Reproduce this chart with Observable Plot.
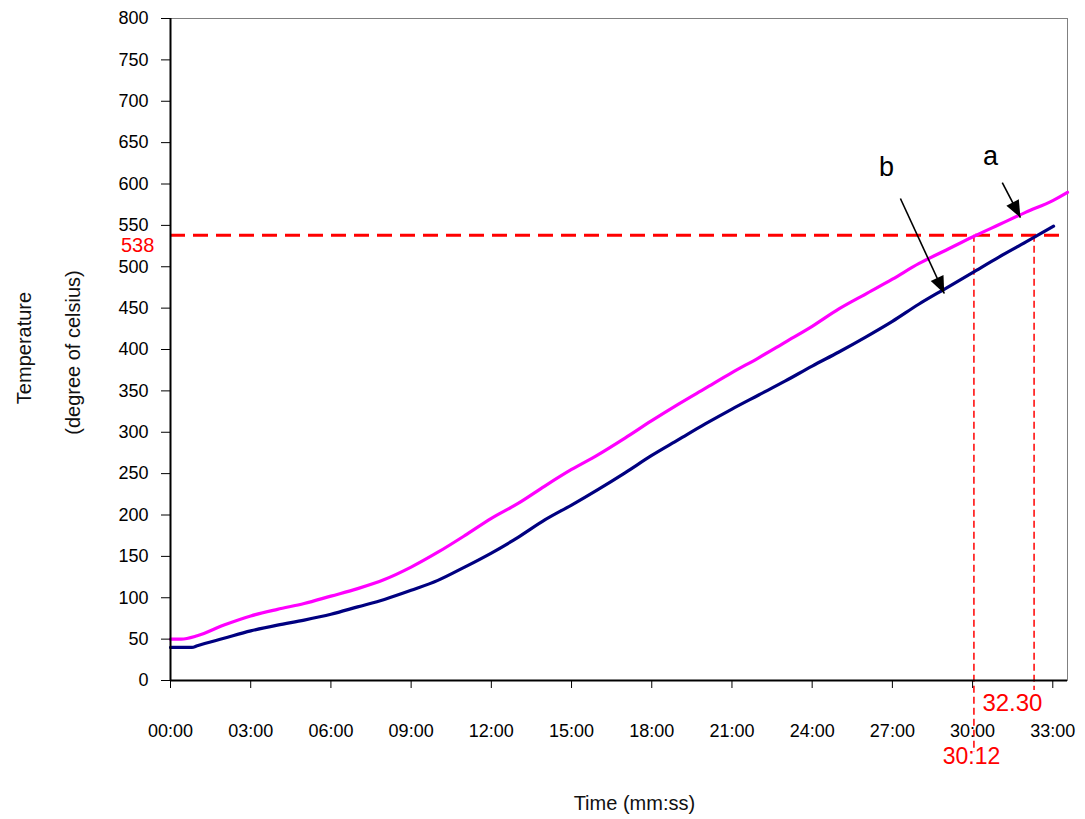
<!DOCTYPE html>
<html>
<head>
<meta charset="utf-8">
<script src="https://cdn.jsdelivr.net/npm/d3@7"></script>
<script src="https://cdn.jsdelivr.net/npm/@observablehq/plot@0.6"></script>
<style>
  html, body { margin: 0; padding: 0; background: #fff; }
  #chart svg { display: block; }
</style>
</head>
<body>
<div id="chart"></div>
<script>
// ---- Data (time in minutes, temperature in °C) ----
const timeA = [0, 0.4, 1, 2, 3, 4, 5, 6, 7, 8, 9, 10, 11, 12, 13, 14, 15, 16, 17, 18, 19, 20, 21, 22, 23, 24, 25, 26, 27, 28, 29, 30, 31, 32, 33, 33.55];
const tempA = [50, 50, 54, 67, 78, 86, 93, 102, 111, 122, 137, 155, 175, 196, 214, 235, 255, 273, 293, 314, 334, 353, 372, 390, 409, 428, 449, 467, 485, 504, 520, 536, 551, 566, 580, 590];

const timeB = [0, 0.8, 1, 2, 3, 4, 5, 6, 7, 8, 9, 10, 11, 12, 13, 14, 15, 16, 17, 18, 19, 20, 21, 22, 23, 24, 25, 26, 27, 28, 29, 30, 31, 32, 33.03];
const tempB = [40, 40, 42, 51, 60, 67, 73, 80, 89, 98, 109, 121, 137, 154, 173, 194, 212, 231, 251, 272, 291, 310, 328, 345, 362, 380, 397, 415, 434, 455, 474, 493, 512, 530, 549];

const yTicks = [0, 50, 100, 150, 200, 250, 300, 350, 400, 450, 500, 550, 600, 650, 700, 750, 800];
const xTickMinutes = [0, 3, 6, 9, 12, 15, 18, 21, 24, 27, 30, 33];
const xTickLabels = ["00:00", "03:00", "06:00", "09:00", "12:00", "15:00", "18:00", "21:00", "24:00", "27:00", "30:00", "33:00"];

const criticalTemp = 538;
const guideTimes = [30.05, 32.3];
const guideBottoms = [-87, -12];

const redNoteText = ["538", "32.30", "30:12"];
const redNoteT = [-1.23, 31.49, 29.96];
const redNoteV = [525, -27.5, -91.5];
const redNoteSize = [20, 24, 23];

const arrowNames = ["a", "b"];
const arrowT1 = [31.11, 27.30];
const arrowV1 = [601.8, 582.5];
const arrowT2 = [31.79, 28.94];
const arrowV2 = [559.5, 467.7];
const letterT = [30.67, 26.78];
const letterV = [634, 620];

// ---- Build tables ----
const seriesA = timeA.map((t, i) => ({t, v: tempA[i]}));
const seriesB = timeB.map((t, i) => ({t, v: tempB[i]}));
const guides = guideTimes.map((t, i) => ({t, bottom: guideBottoms[i]}));
const redNotes = redNoteText.map((label, i) => ({label, t: redNoteT[i], v: redNoteV[i], size: redNoteSize[i]}));
const arrows = arrowNames.map((name, i) => ({name, t1: arrowT1[i], v1: arrowV1[i], t2: arrowT2[i], v2: arrowV2[i]}));
const letters = arrowNames.map((name, i) => ({name, t: letterT[i], v: letterV[i]}));

const headSym = {
  draw(ctx) {
    ctx.moveTo(0, 0);
    ctx.lineTo(-7, 17);
    ctx.lineTo(7, 17);
    ctx.closePath();
  }
};

const FONT = "'Liberation Sans', Arial, Helvetica, sans-serif";

function build(heads) {
  const marks = [
    Plot.frame({stroke: "#808080", strokeWidth: 1}),
    Plot.ruleY([criticalTemp], {stroke: "#ff0000", strokeWidth: 3, strokeDasharray: "15,8"}),
    Plot.ruleX(guides, {x: "t", y1: criticalTemp, y2: "bottom", stroke: "#ff0000", strokeWidth: 1.5, strokeDasharray: "7,4"}),
    Plot.line(seriesA, {x: "t", y: "v", stroke: "#ff00ff", strokeWidth: 3.2, strokeLinejoin: "round", curve: "monotone-x"}),
    Plot.line(seriesB, {x: "t", y: "v", stroke: "#000080", strokeWidth: 3.2, strokeLinejoin: "round", curve: "monotone-x"}),
    Plot.ruleX([0], {stroke: "#000", strokeWidth: 2}),
    Plot.ruleY([0], {stroke: "#000", strokeWidth: 2}),
    Plot.axisY({ticks: yTicks, tickSize: 9, tickPadding: 13, fontSize: 18, label: null, stroke: "#000"}),
    Plot.axisX({ticks: xTickMinutes, tickFormat: d => xTickLabels[xTickMinutes.indexOf(d)], tickSize: 8, tickPadding: 36, fontSize: 18, label: null, stroke: "#000"}),
    Plot.link(arrows, {x1: "t1", y1: "v1", x2: "t2", y2: "v2", stroke: "#000", strokeWidth: 1.6}),
    Plot.text(letters, {x: "t", y: "v", text: "name", fontSize: 27, fill: "#000"}),
    Plot.text(redNotes, {x: "t", y: "v", text: "label", fontSize: "size", fill: "#ff0000"}),
    Plot.text(["Time (mm:ss)"], {x: 17.35, y: -148.6, text: d => d, fontSize: 20, fill: "#111"}),
    Plot.text(["Temperature"], {x: -5.47, y: 401.8, text: d => d, fontSize: 20, rotate: -90, fill: "#111"}),
    Plot.text(["(degree of celsius)"], {x: -3.64, y: 396.4, text: d => d, fontSize: 20, rotate: -90, fill: "#111"})
  ];
  if (heads) {
    marks.push(Plot.dot(heads, {x: "t", y: "v", symbol: headSym, rotate: "angle", fill: "#000", stroke: "none", r: 5}));
  }
  return Plot.plot({
    width: 1085,
    height: 819,
    marginLeft: 170,
    marginRight: 18,
    marginTop: 18,
    marginBottom: 139,
    x: {domain: [0, 33.55], label: null},
    y: {domain: [0, 800], label: null},
    style: {fontFamily: FONT, fontSize: "18px", color: "#000", background: "#fff"},
    marks
  });
}

const probe = build(null);
const sx = probe.scale("x"), sy = probe.scale("y");
const heads = arrows.map(a => {
  const dx = sx.apply(a.t2) - sx.apply(a.t1);
  const dy = sy.apply(a.v2) - sy.apply(a.v1);
  return {t: a.t2, v: a.v2, angle: Math.atan2(dx, -dy) * 180 / Math.PI};
});

document.getElementById("chart").appendChild(build(heads));
</script>
</body>
</html>
